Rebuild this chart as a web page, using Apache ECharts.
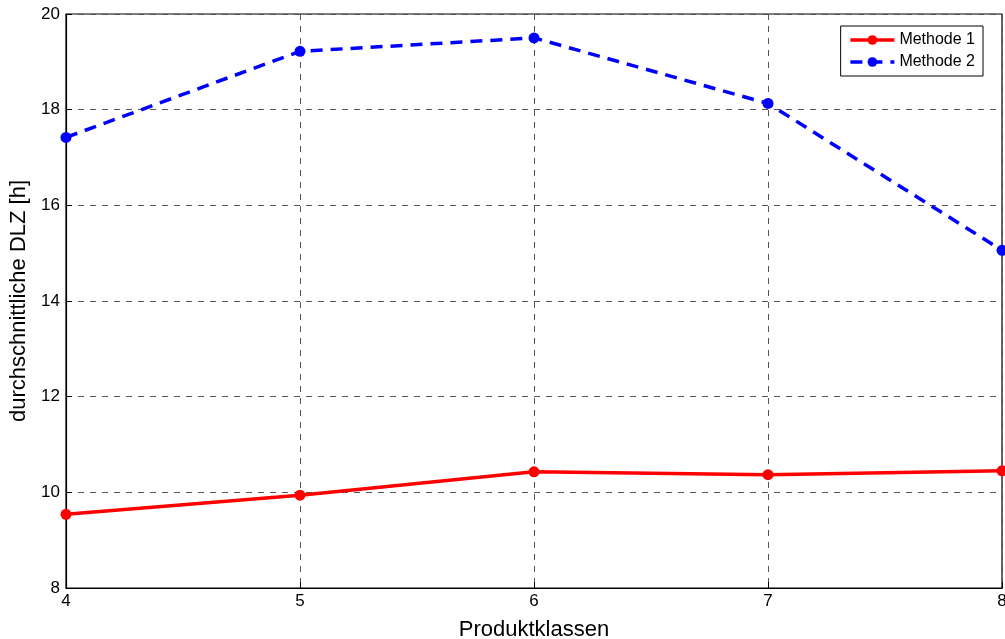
<!DOCTYPE html>
<html>
<head>
<meta charset="utf-8">
<script src="https://cdn.jsdelivr.net/npm/echarts@6/dist/echarts.min.js"></script>
<style>
  html, body { margin: 0; padding: 0; background: #fff; }
  #chart { width: 1005px; height: 639px; }
</style>
</head>
<body>
<div id="chart"></div>
<script>
// Produktklassen on the x axis
const classes = [4, 5, 6, 7, 8];
// average lead time (DLZ) in hours per method
const methode1 = [9.54, 9.94, 10.43, 10.37, 10.45];
const methode2 = [17.42, 19.22, 19.50, 18.13, 15.06];
const yTicks = [8, 10, 12, 14, 16, 18, 20];

const font = 'Helvetica, "Liberation Sans", Arial, sans-serif';
const pairs = (vals) => classes.map((c, i) => [c, vals[i]]);

const chart = echarts.init(document.getElementById('chart'), null, { renderer: 'canvas' });
chart.setOption({
  animation: false,
  backgroundColor: '#ffffff',
  grid: {
    left: 66, right: 3, top: 14, bottom: 51,
    outerBoundsMode: 'none', containLabel: false,
    show: true, borderColor: '#000', borderWidth: 1.2, backgroundColor: 'transparent'
  },
  legend: {
    right: 22, top: 26,
    orient: 'vertical',
    backgroundColor: '#fff',
    borderColor: '#000', borderWidth: 1,
    padding: [6, 8, 6, 8],
    itemGap: 6,
    itemWidth: 44, itemHeight: 12,
    lineStyle: { width: 3.5 },
    textStyle: { fontFamily: font, fontSize: 16, color: '#000' },
    data: ['Methode 1', 'Methode 2']
  },
  xAxis: {
    type: 'value', min: 4, max: 8, interval: 1,
    name: 'Produktklassen', nameLocation: 'middle', nameGap: 31,
    nameTextStyle: { fontFamily: font, fontSize: 22, color: '#000' },
    axisLine: { show: true, onZero: false, lineStyle: { color: '#000', width: 1.2 } },
    axisTick: { show: true, inside: true, length: 6, lineStyle: { color: '#000' } },
    axisLabel: { fontFamily: font, fontSize: 17, color: '#000', margin: 5 },
    splitLine: { show: true, lineStyle: { color: '#555', type: [6, 6], width: 1 } }
  },
  yAxis: {
    type: 'value', min: yTicks[0], max: yTicks[yTicks.length - 1], interval: 2,
    name: 'durchschnittliche DLZ [h]', nameLocation: 'middle', nameGap: 36,
    nameTextStyle: { fontFamily: font, fontSize: 22, color: '#000' },
    axisLine: { show: true, lineStyle: { color: '#000', width: 1.2 } },
    axisTick: { show: true, inside: true, length: 6, lineStyle: { color: '#000' } },
    axisLabel: { fontFamily: font, fontSize: 17, color: '#000', margin: 6 },
    splitLine: { show: true, lineStyle: { color: '#555', type: [6, 6], width: 1 } }
  },
  series: [
    {
      name: 'Methode 1', type: 'line', data: pairs(methode1),
      symbol: 'circle', symbolSize: 11,
      lineStyle: { color: '#ff0000', width: 3.5 },
      itemStyle: { color: '#ff0000' }
    },
    {
      name: 'Methode 2', type: 'line', data: pairs(methode2),
      symbol: 'circle', symbolSize: 11,
      lineStyle: { color: '#0000ff', width: 3.5, type: [12, 8] },
      itemStyle: { color: '#0000ff' }
    }
  ]
});
</script>
</body>
</html>
